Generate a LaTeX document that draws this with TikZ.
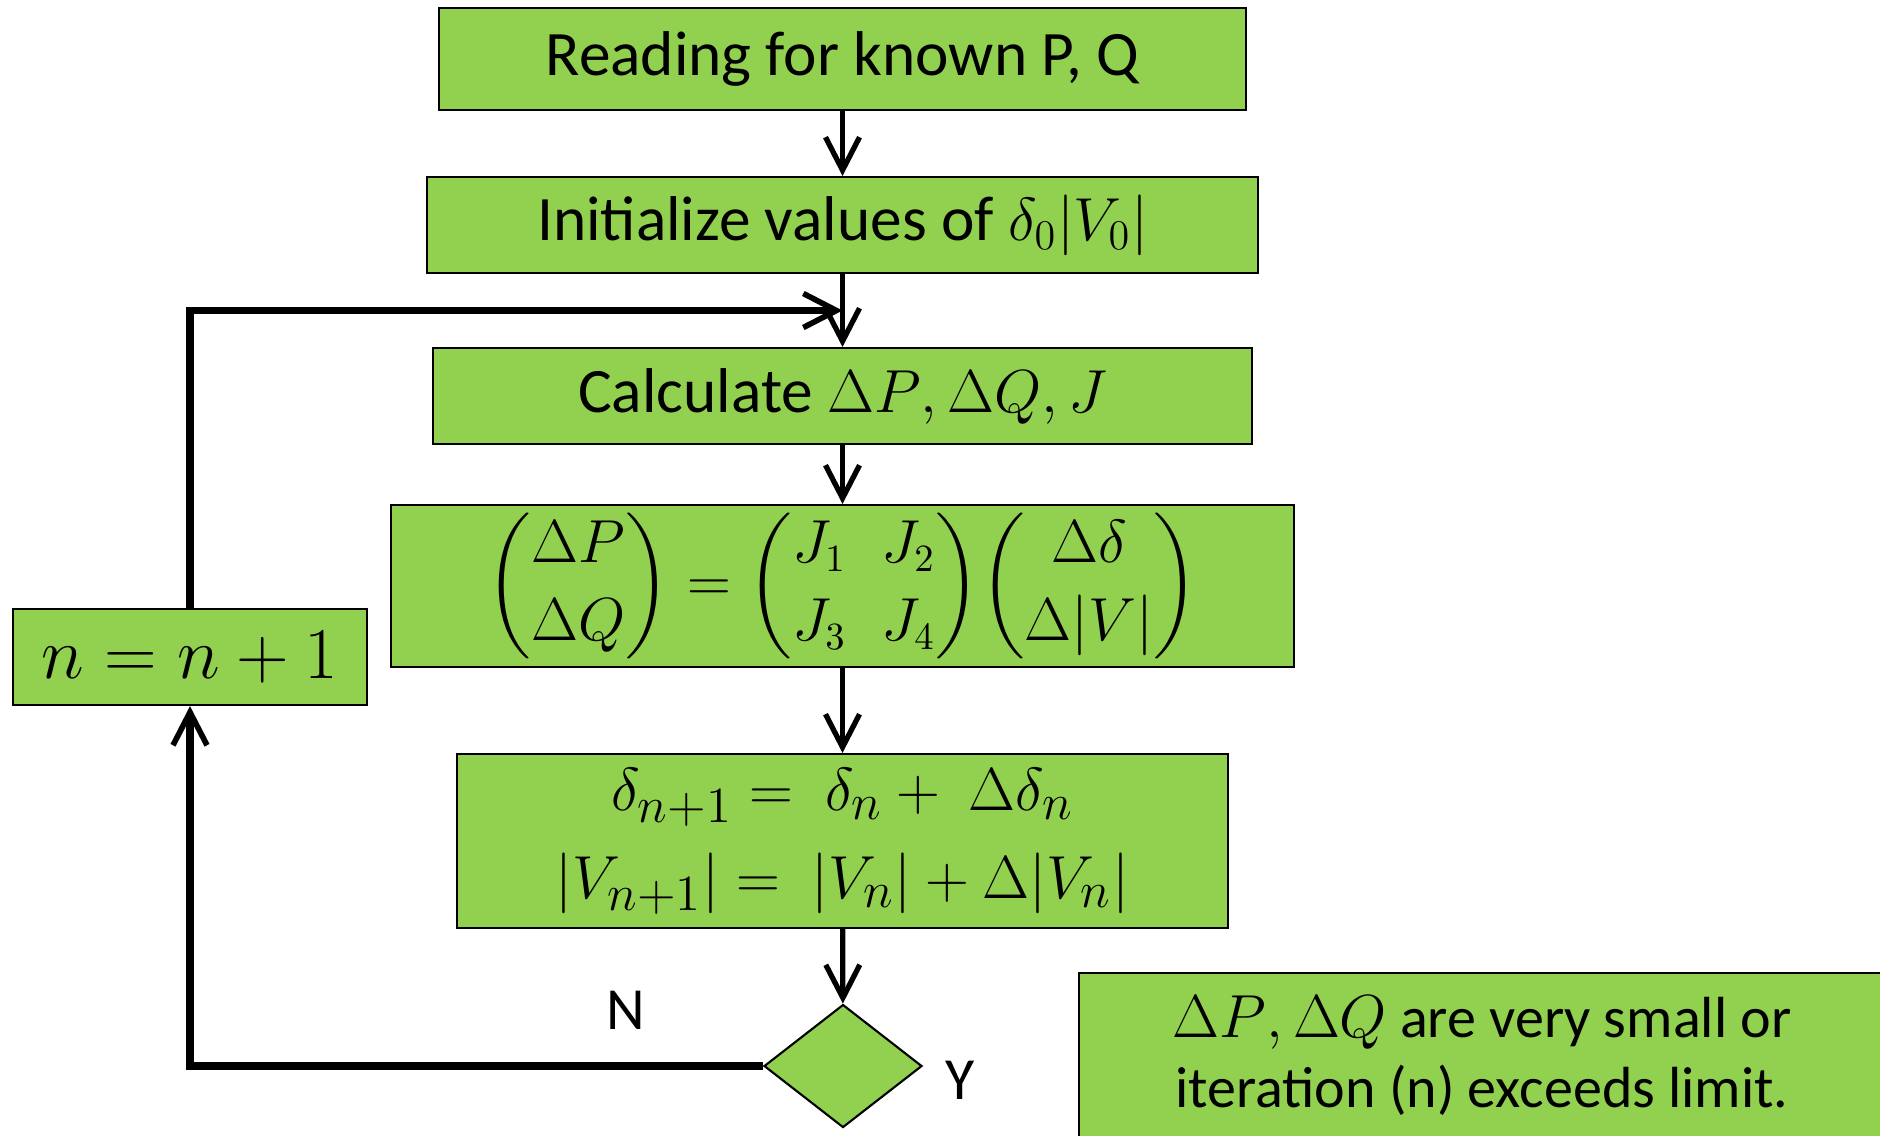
\documentclass[tikz,border=0pt]{standalone}
\usepackage{amsmath}
\usepackage{fontspec}
\setmainfont{Carlito}
\usepackage{xcolor}
\usetikzlibrary{shapes.geometric, arrows.meta, positioning, calc}

\definecolor{boxgreen}{HTML}{92D050}

\begin{document}
\begin{tikzpicture}[
    x=0.01cm, y=-0.01cm,
    block/.style={rectangle, draw, line width=0.6pt, fill=boxgreen, align=center, inner sep=0pt, font=\fontsize{18}{24}\selectfont},
    decision/.style={diamond, draw, line width=0.6pt, fill=boxgreen, inner sep=0pt, minimum width=158*0.01cm, minimum height=123*0.01cm, aspect=1.28},
    arrow/.style={line width=1.5pt, -{Straight Barb[length=3.3mm, width=3.4mm, line width=1.5pt]}},
    loop/.style={line width=2.2pt, -{Straight Barb[length=3.3mm, width=3.4mm, line width=1.6pt]}},
    tag/.style={font=\fontsize{17}{20}\selectfont}
]
\clip (0,0) rectangle (1880,1135);

% Main column
\node [block, minimum width=807*0.01cm, minimum height=102*0.01cm] (read) at (842.5,59) {Reading for known P, Q};
\node [block, minimum width=831*0.01cm, minimum height=96*0.01cm] (init) at (842.5,225) {Initialize values of $\delta_0|V_0|$};
\node [block, minimum width=819*0.01cm, minimum height=96*0.01cm] (calc) at (842.5,396) {Calculate $\Delta P{,}\,\Delta Q{,}\,J$};
\node [block, minimum width=903*0.01cm, minimum height=162*0.01cm, font=\fontsize{16}{22}\selectfont] (solve) at (842.5,586)
    {$\begin{pmatrix}\Delta P\\ \Delta Q\end{pmatrix} = \begin{pmatrix}J_1 & J_2\\ J_3 & J_4\end{pmatrix}\!\begin{pmatrix}\Delta\delta\\ \Delta|V|\end{pmatrix}$};
\node [block, minimum width=771*0.01cm, minimum height=174*0.01cm, font=\fontsize{19}{21}\selectfont] (update) at (842.5,841)
    {$\delta_{n+1} = \ \delta_n + \ \Delta\delta_n$ \\[4pt] $|V_{n+1}| = \ |V_n| + \Delta|V_n|$};
\node [decision] (check) at (843,1066) {};

% Loop and result
\node [block, minimum width=354*0.01cm, minimum height=96*0.01cm, font=\fontsize{21}{24}\selectfont] (incr) at (190,657) {$n = n+1$};
\node [block, minimum width=810*0.01cm, minimum height=200*0.01cm] (done) at (1484,1073) {};
\node [font=\fontsize{16.5}{20}\selectfont, align=center] (donetext) at (1482,1056)
    {$\Delta P{,}\,\Delta Q$ are very small or\\ iteration (n) exceeds limit.};

\node [tag] (no) at (626,1010) {N};
\node [tag] (yes) at (960,1080) {Y};

\coordinate (join) at ($(init.south)!0.5!(calc.north)$);

% Connections
\draw [arrow] (read) -- (init);
\draw [arrow] (init) -- (calc);
\draw [arrow] (calc) -- (solve);
\draw [arrow] (solve) -- (update);
\draw [arrow] (update) -- (check);
\draw [loop] (check.west) -| (incr.south);
\draw [loop] (incr.north) |- (join);

\end{tikzpicture}
\end{document}
